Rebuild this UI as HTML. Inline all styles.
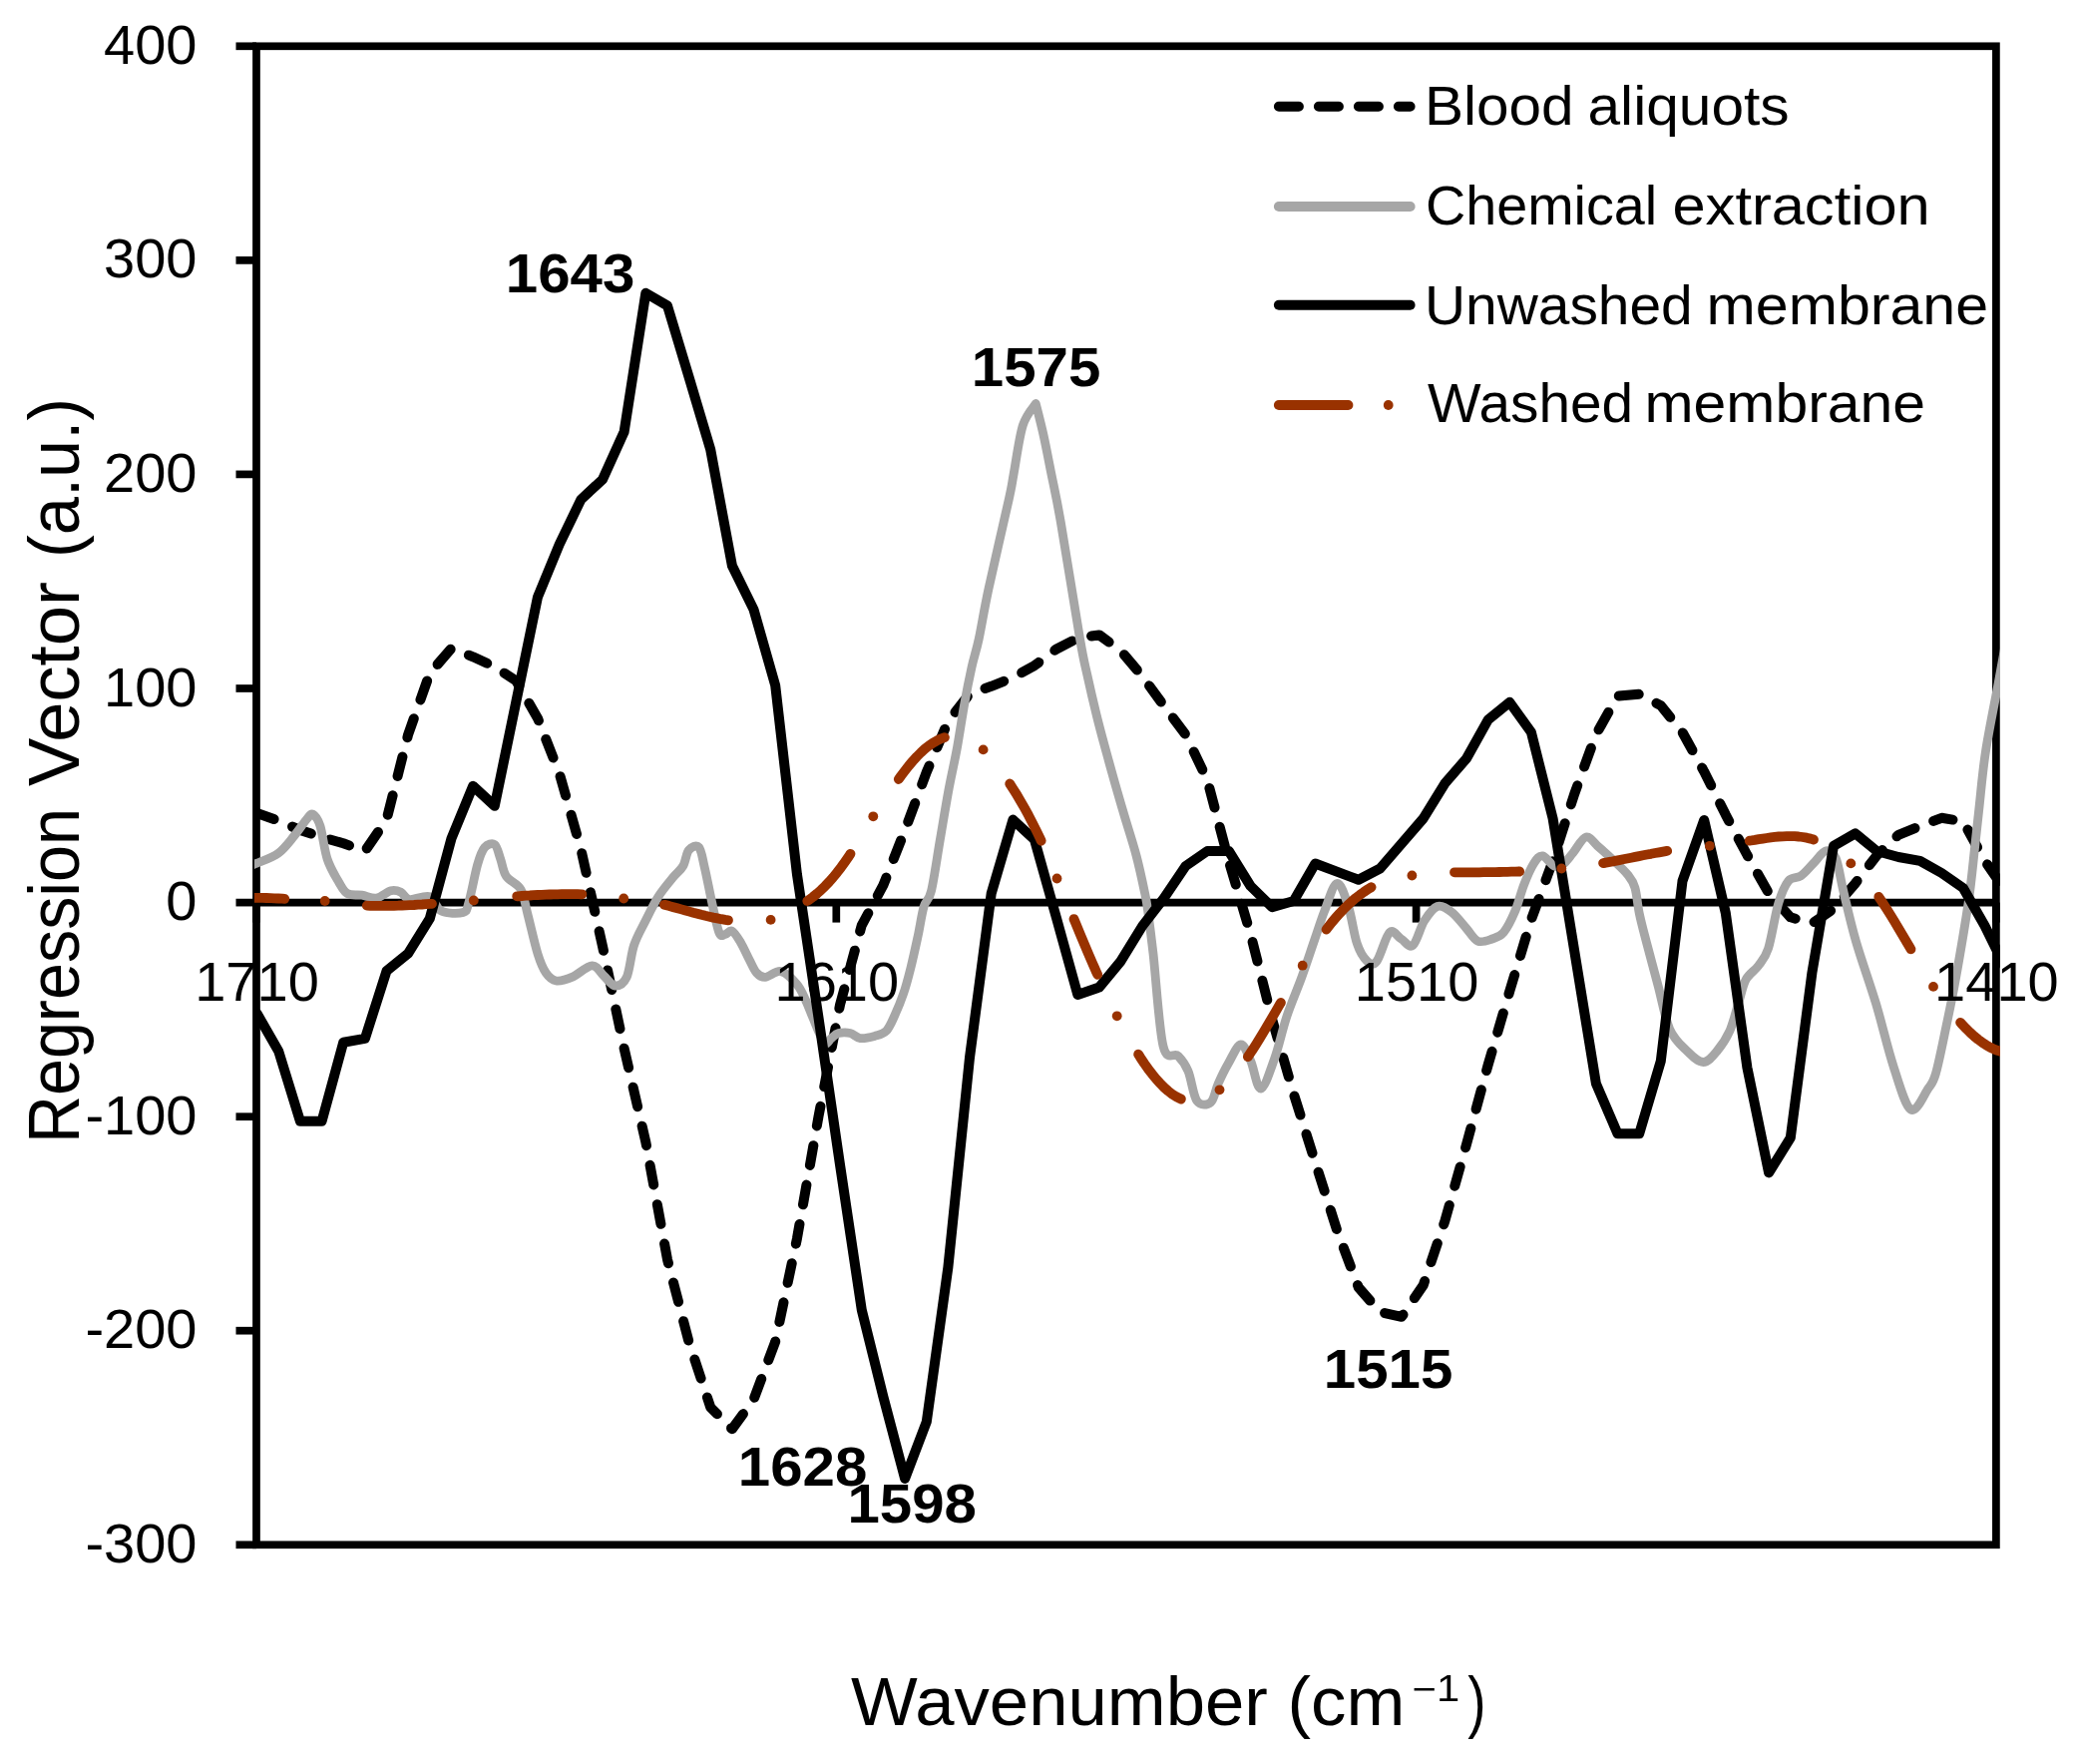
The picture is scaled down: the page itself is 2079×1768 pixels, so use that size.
<!DOCTYPE html>
<html lang="en"><head><meta charset="utf-8"><title>Regression Vector vs Wavenumber</title>
<style>
html,body{margin:0;padding:0;background:#fff;}
body{width:2079px;height:1768px;overflow:hidden;}
svg{display:block;}
text{font-family:"Liberation Sans",sans-serif;fill:#000;}
.tk{font-size:56px;}
.pk{font-size:56px;font-weight:bold;}
.lg{font-size:56px;}
.tt{font-size:69px;}
.yt{font-size:72px;}
</style></head><body>
<svg width="2079" height="1768" viewBox="0 0 2079 1768">
<rect x="0" y="0" width="2079" height="1768" fill="#fff"/>
<defs><filter id="soft" x="0" y="0" width="2079" height="1768" filterUnits="userSpaceOnUse"><feGaussianBlur stdDeviation="0.65"/></filter><clipPath id="pc"><rect x="255.0" y="42.4" width="1750.0" height="1509.7"/></clipPath></defs>

<g filter="url(#soft)">
<g stroke="#000" stroke-width="7.7" fill="none" stroke-linecap="butt">
<rect x="257.0" y="46.3" width="1743.9" height="1502.0"/>
<line x1="236.5" y1="46.3" x2="257.0" y2="46.3"/>
<line x1="236.5" y1="260.9" x2="257.0" y2="260.9"/>
<line x1="236.5" y1="475.4" x2="257.0" y2="475.4"/>
<line x1="236.5" y1="690.0" x2="257.0" y2="690.0"/>
<line x1="236.5" y1="904.6" x2="257.0" y2="904.6"/>
<line x1="236.5" y1="1119.2" x2="257.0" y2="1119.2"/>
<line x1="236.5" y1="1333.7" x2="257.0" y2="1333.7"/>
<line x1="236.5" y1="1548.3" x2="257.0" y2="1548.3"/>
<line x1="257.0" y1="904.6" x2="2000.9" y2="904.6"/>
<line x1="257.0" y1="904.6" x2="257.0" y2="924.6"/>
<line x1="838.3" y1="904.6" x2="838.3" y2="924.6"/>
<line x1="1419.6" y1="904.6" x2="1419.6" y2="924.6"/>
<line x1="2000.9" y1="904.6" x2="2000.9" y2="924.6"/>
</g>
<text class="tk" x="197.5" y="63.8" text-anchor="end">400</text>
<text class="tk" x="197.5" y="278.4" text-anchor="end">300</text>
<text class="tk" x="197.5" y="492.9" text-anchor="end">200</text>
<text class="tk" x="197.5" y="707.5" text-anchor="end">100</text>
<text class="tk" x="197.5" y="922.1" text-anchor="end">0</text>
<text class="tk" x="197.5" y="1136.7" text-anchor="end">-100</text>
<text class="tk" x="197.5" y="1351.2" text-anchor="end">-200</text>
<text class="tk" x="197.5" y="1565.8" text-anchor="end">-300</text>
<g clip-path="url(#pc)" fill="none" stroke-linejoin="round" stroke-linecap="round">
<polyline points="257.6,815.0 279.2,822.6 300.9,831.9 322.6,839.0 344.2,845.3 365.9,853.0 387.5,821.5 409.1,736.3 430.8,674.9 452.5,649.8 474.1,658.3 495.8,668.3 517.4,682.4 539.0,719.9 560.7,775.2 582.4,851.4 604.0,948.4 625.6,1050.7 647.3,1144.6 669.0,1262.4 690.6,1345.2 712.2,1410.4 733.9,1432.3 755.5,1402.6 777.2,1344.7 798.9,1241.7 820.5,1119.0 842.1,1006.7 863.8,927.3 885.4,887.2 907.1,832.2 928.8,773.8 950.4,722.9 972.0,695.4 993.7,687.8 1015.4,679.1 1037.0,667.1 1058.7,650.8 1080.3,639.6 1101.9,636.4 1123.6,652.3 1145.2,677.9 1166.9,707.7 1188.5,736.3 1210.2,781.8 1231.8,863.2 1253.5,935.8 1275.2,1021.8 1296.8,1096.3 1318.4,1164.9 1340.1,1232.7 1361.8,1290.4 1383.4,1315.0 1405.0,1319.8 1426.7,1288.1 1448.3,1224.0 1470.0,1147.0 1491.7,1067.1 1513.3,993.4 1534.9,921.7 1556.6,862.8 1578.2,795.7 1599.9,736.0 1621.5,697.6 1643.2,695.7 1664.8,707.2 1686.5,734.0 1708.2,773.3 1729.8,816.6 1751.4,857.0 1773.1,895.4 1794.8,919.3 1816.4,925.5 1838.0,910.8 1859.7,885.4 1881.3,857.5 1903.0,836.8 1924.7,828.0 1946.3,819.8 1967.9,823.3 1989.6,862.7 2011.2,894.0" stroke="#000" stroke-width="10" stroke-dasharray="20 20" stroke-dashoffset="2"/>
<path d="M250.0,868.0C251.2,867.5 252.4,867.4 257.2,865.3C262.0,863.2 272.6,859.8 278.9,855.2C285.2,850.6 290.0,843.7 294.8,837.9C299.6,832.1 304.8,824.1 307.9,820.5C311.0,816.9 311.4,815.0 313.6,816.2C315.8,817.4 318.5,820.2 320.9,827.7C323.3,835.2 325.0,851.6 328.1,861.0C331.2,870.4 336.3,878.4 339.7,884.2C343.1,890.0 344.5,893.5 348.4,895.7C352.2,897.9 358.0,896.5 362.8,897.2C367.6,897.9 372.5,900.8 377.3,900.1C382.1,899.4 387.7,893.8 391.8,892.8C395.9,891.8 398.8,892.8 401.9,894.3C405.0,895.8 405.8,900.8 410.6,901.5C415.4,902.2 425.5,896.7 430.8,898.6C436.1,900.5 436.8,910.5 442.4,913.1C447.9,915.8 459.5,916.0 464.1,914.5C468.7,913.0 467.5,912.4 469.9,904.4C472.3,896.4 476.0,876.0 478.6,866.8C481.2,857.6 482.9,852.8 485.8,849.4C488.7,846.0 493.2,844.6 495.9,846.5C498.5,848.4 499.8,855.7 501.7,861.0C503.6,866.3 504.1,873.3 507.5,878.4C510.9,883.5 518.4,884.9 522.0,891.4C525.6,897.9 526.4,906.6 529.2,917.4C532.0,928.2 536.0,946.4 539.0,956.0C542.0,965.6 544.1,970.5 547.2,975.0C550.3,979.5 553.0,982.3 557.4,983.0C561.8,983.7 567.3,981.9 573.3,979.4C579.3,976.9 588.2,968.0 593.5,967.8C598.8,967.5 601.2,974.5 605.1,977.9C609.0,981.3 612.9,987.8 616.7,988.0C620.6,988.2 625.1,986.1 628.2,979.4C631.3,972.6 632.4,956.9 635.5,947.5C638.6,938.1 642.9,931.2 647.0,923.0C651.1,914.8 655.5,905.6 660.1,898.4C664.7,891.2 670.4,884.7 674.5,879.6C678.6,874.5 682.1,872.6 684.7,868.0C687.4,863.4 687.8,855.2 690.4,852.1C693.0,849.0 698.0,846.3 700.6,849.2C703.2,852.1 704.1,860.2 706.3,869.4C708.5,878.6 711.2,893.4 713.6,904.2C716.0,915.1 718.6,929.1 720.8,934.5C723.0,939.9 724.4,936.9 726.6,936.7C728.8,936.5 731.1,931.8 733.8,933.1C736.4,934.4 739.6,939.9 742.5,944.7C745.4,949.5 748.6,957.0 751.2,962.0C753.9,967.0 755.8,972.1 758.4,975.0C761.0,977.9 763.0,979.6 767.1,979.4C771.2,979.2 777.7,972.4 783.0,973.6C788.3,974.8 794.8,981.8 798.9,986.6C803.0,991.4 805.0,997.0 807.6,1002.5C810.2,1008.0 812.4,1014.1 814.8,1019.9C817.2,1025.7 819.9,1032.7 822.0,1037.0C824.1,1041.3 825.6,1045.4 827.5,1046.0C829.4,1046.6 831.2,1042.3 833.4,1040.6C835.6,1038.8 837.5,1036.3 840.6,1035.5C843.7,1034.7 848.6,1034.7 852.2,1035.5C855.8,1036.3 858.2,1040.1 862.3,1040.6C866.4,1041.1 872.4,1039.6 876.8,1038.4C881.1,1037.2 885.0,1036.8 888.4,1033.3C891.8,1029.8 894.1,1023.7 897.0,1017.4C899.9,1011.1 903.0,1003.7 905.7,995.7C908.4,987.8 910.6,979.3 913.0,969.7C915.4,960.1 918.0,948.0 920.2,937.9C922.4,927.8 923.8,916.4 926.0,908.9C928.2,901.4 930.8,904.1 933.5,893.0C936.2,881.9 939.3,859.4 942.2,842.5C945.1,825.6 948.0,807.6 950.9,791.9C953.8,776.2 957.0,763.0 959.6,748.5C962.2,734.0 964.4,718.4 966.8,705.1C969.2,691.8 971.6,679.8 974.0,668.9C976.4,658.0 978.5,653.1 981.3,640.0C984.1,626.9 986.0,613.3 991.0,590.0C996.0,566.7 1007.2,519.2 1011.4,500.0C1015.6,480.8 1013.9,486.9 1016.2,474.6C1018.5,462.3 1021.6,438.1 1025.3,426.4C1029.0,414.7 1036.1,408.1 1038.3,404.5 M1038.3,404.5C1039.6,409.8 1043.4,424.3 1046.0,436.0C1048.6,447.7 1050.9,460.1 1053.8,474.6C1056.7,489.1 1058.5,495.6 1063.3,523.2C1068.1,550.8 1078.1,614.5 1082.5,640.0C1086.9,665.5 1086.9,662.9 1089.8,676.2C1092.7,689.5 1096.3,705.1 1099.9,719.6C1103.5,734.1 1107.2,747.3 1111.5,763.0C1115.8,778.7 1121.3,797.9 1125.9,813.6C1130.5,829.3 1135.3,843.4 1138.9,857.0C1142.5,870.6 1145.7,886.0 1147.6,895.2C1149.5,904.4 1149.1,901.9 1150.5,912.0C1151.9,922.1 1153.4,933.0 1156.0,955.7C1158.6,978.4 1161.8,1031.3 1166.0,1048.4C1170.2,1065.5 1176.8,1054.2 1181.0,1058.4C1185.2,1062.6 1187.8,1066.0 1191.0,1073.5C1194.2,1081.0 1196.1,1098.3 1199.9,1103.5C1203.7,1108.7 1210.2,1107.7 1213.7,1104.8C1217.2,1101.9 1218.3,1092.5 1221.2,1086.0C1224.1,1079.5 1227.4,1072.5 1231.2,1066.0C1235.0,1059.5 1240.0,1047.4 1243.8,1047.0C1247.6,1046.6 1250.5,1056.2 1253.8,1063.5C1257.1,1070.8 1259.8,1091.4 1263.8,1091.0C1267.8,1090.6 1273.2,1073.1 1277.6,1061.0C1282.0,1048.9 1285.4,1032.0 1290.0,1018.3C1294.6,1004.6 1300.4,991.7 1305.0,979.0C1309.6,966.3 1313.9,953.0 1317.7,942.0C1321.5,931.0 1324.0,922.4 1327.7,913.0C1331.5,903.6 1336.2,886.3 1340.2,885.5C1344.2,884.7 1348.2,898.0 1351.5,908.0C1354.8,918.0 1357.2,936.5 1360.3,945.7C1363.4,954.9 1367.0,960.2 1370.3,963.2C1373.6,966.2 1376.2,968.3 1380.0,963.5C1383.8,958.7 1388.9,938.2 1393.0,934.5C1397.1,930.8 1400.6,938.8 1404.5,941.0C1408.4,943.2 1412.3,950.6 1416.2,947.6C1420.1,944.6 1423.6,929.5 1427.7,923.0C1431.8,916.5 1436.2,910.0 1440.8,908.5C1445.4,907.0 1450.4,910.7 1455.2,914.3C1460.0,917.9 1465.4,925.4 1469.7,930.2C1474.0,935.0 1477.0,941.4 1481.3,943.2C1485.6,945.0 1491.4,942.5 1495.7,941.0C1500.0,939.5 1503.4,939.2 1507.3,934.5C1511.2,929.8 1515.5,920.8 1518.9,912.8C1522.3,904.8 1524.5,894.8 1527.6,886.8C1530.7,878.8 1534.6,869.9 1537.7,865.1C1540.8,860.3 1543.0,857.4 1546.4,857.9C1549.8,858.4 1554.5,866.6 1557.9,868.0C1561.3,869.4 1563.9,868.2 1567.0,866.0C1570.1,863.8 1572.9,859.5 1576.7,855.0C1580.5,850.5 1585.5,840.0 1589.8,839.0C1594.1,838.0 1598.2,845.3 1602.8,849.2C1607.4,853.1 1612.4,857.6 1617.2,862.2C1622.0,866.8 1628.1,872.1 1631.7,876.7C1635.3,881.3 1637.0,883.2 1638.9,889.7C1640.8,896.2 1641.4,906.5 1643.3,915.7C1645.2,924.9 1647.4,932.7 1650.5,944.7C1653.6,956.8 1658.2,973.5 1662.1,988.0C1666.0,1002.5 1668.9,1020.5 1673.7,1031.4C1678.5,1042.3 1685.5,1047.9 1691.1,1053.4C1696.7,1058.9 1702.4,1064.5 1707.4,1064.5C1712.4,1064.5 1716.8,1058.7 1721.2,1053.4C1725.6,1048.2 1730.4,1041.0 1734.0,1033.0C1737.6,1025.0 1739.9,1014.1 1742.6,1005.6C1745.3,997.1 1746.7,988.3 1750.0,982.0C1753.3,975.7 1758.8,973.2 1762.6,968.0C1766.4,962.8 1769.2,960.9 1772.6,950.5C1775.9,940.1 1779.3,916.8 1782.7,905.5C1786.1,894.2 1789.0,887.5 1792.7,882.9C1796.5,878.3 1801.0,880.8 1805.2,877.9C1809.4,875.0 1813.5,869.6 1817.7,865.4C1821.9,861.2 1826.5,853.6 1830.3,852.8C1834.1,851.9 1837.4,853.6 1840.3,860.3C1843.2,867.0 1844.5,879.1 1847.8,892.9C1851.1,906.7 1854.9,924.2 1860.3,943.0C1865.7,961.8 1874.1,984.7 1880.4,1005.6C1886.7,1026.5 1892.1,1050.6 1897.9,1068.3C1903.7,1086.0 1909.6,1108.2 1915.4,1112.0C1921.2,1115.8 1928.8,1096.8 1933.0,1090.8C1937.2,1084.8 1937.6,1085.8 1940.5,1075.8C1943.4,1065.8 1947.2,1046.6 1950.5,1030.7C1953.8,1014.8 1956.8,1001.5 1960.5,980.6C1964.2,959.7 1969.8,927.3 1973.0,905.5C1976.2,883.7 1977.7,866.1 1979.5,850.0C1981.3,833.9 1982.2,825.2 1984.0,809.0C1985.8,792.8 1987.3,773.5 1990.5,752.8C1993.7,732.1 1999.9,702.5 2003.1,685.0C2006.3,667.5 2007.8,659.7 2009.9,648.0C2012.1,636.3 2015.0,620.5 2016.0,615.0" stroke="#A6A6A6" stroke-width="8.8"/>
<polyline points="257.6,1015.8 279.2,1053.4 300.9,1123.8 322.6,1123.8 344.2,1044.7 365.9,1040.9 387.5,973.2 409.1,955.7 430.8,920.6 452.5,840.4 474.1,787.8 495.8,807.8 517.4,703.0 539.0,598.3 560.7,545.7 582.4,500.6 604.0,480.6 625.6,432.9 647.3,293.8 669.0,306.4 690.6,378.0 712.2,450.5 733.9,567.0 755.5,610.9 777.2,687.0 798.9,876.0 820.5,1020.0 842.1,1168.0 863.8,1313.0 885.4,1400.0 907.1,1482.0 928.8,1425.0 950.4,1270.0 972.0,1060.0 993.7,895.5 1015.4,821.6 1037.0,841.7 1058.7,919.0 1080.3,997.0 1101.9,989.5 1123.6,963.2 1145.2,928.0 1166.9,900.0 1188.5,868.0 1210.2,853.0 1231.8,853.0 1253.5,888.0 1275.2,909.3 1296.8,903.0 1318.4,865.5 1340.1,873.6 1361.8,881.8 1383.4,870.5 1405.0,845.4 1426.7,820.4 1448.3,785.3 1470.0,760.2 1491.7,721.4 1513.3,703.8 1534.9,733.9 1556.6,820.4 1578.2,953.0 1599.9,1086.0 1621.5,1136.3 1643.2,1136.3 1664.8,1063.5 1686.5,883.0 1708.2,822.0 1729.8,915.0 1751.4,1070.0 1773.1,1175.4 1794.8,1140.3 1816.4,975.0 1838.0,847.8 1859.7,835.3 1881.3,853.0 1903.0,859.0 1924.7,862.9 1946.3,875.0 1967.9,890.0 1989.6,928.0 2011.2,972.0" stroke="#000" stroke-width="10"/>
<polyline points="245.0,900.3 247.0,900.2 251.0,900.0 255.0,899.9 259.0,899.9 263.0,899.9 267.0,900.0 271.0,900.1 275.0,900.3 279.0,900.5 283.0,900.7 285.3,900.9" stroke="#993300" stroke-width="9.8"/>
<polyline points="367.8,907.7 371.0,907.8 375.0,907.8 379.0,907.9 383.0,907.9 387.0,907.9 391.0,907.8 395.0,907.8 399.0,907.7 403.0,907.5 407.0,907.4 411.0,907.2 415.0,907.0 419.0,906.7 423.0,906.5 427.0,906.2 431.0,905.9 433.0,905.8" stroke="#993300" stroke-width="9.8"/>
<polyline points="518.2,898.3 519.0,898.3 523.0,898.0 527.0,897.7 531.0,897.5 535.0,897.2 539.0,897.0 543.0,896.8 547.0,896.6 551.0,896.5 555.0,896.4 559.0,896.3 563.0,896.2 567.0,896.2 571.0,896.1 575.0,896.1 579.0,896.2 583.0,896.3 583.4,896.3" stroke="#993300" stroke-width="9.8"/>
<polyline points="665.9,906.8 667.0,907.1 671.0,908.1 675.0,909.2 679.0,910.3 683.0,911.4 687.0,912.5 691.0,913.6 695.0,914.7 699.0,915.7 703.0,916.8 707.0,917.8 711.0,918.7 715.0,919.6 719.0,920.4 723.0,921.2 727.0,921.9 730.0,922.3" stroke="#993300" stroke-width="9.8"/>
<polyline points="809.3,903.0 811.0,901.9 815.0,898.9 819.0,895.6 823.0,892.1 827.0,888.2 831.0,884.0 835.0,879.5 839.0,874.6 843.0,869.4 847.0,863.8 851.0,858.1 852.5,855.8" stroke="#993300" stroke-width="9.8"/>
<polyline points="900.8,781.0 903.0,777.9 907.0,772.6 911.0,767.5 915.0,762.8 919.0,758.4 923.0,754.4 927.0,750.7 931.0,747.5 935.0,744.7 939.0,742.4 943.0,740.5 946.9,739.1" stroke="#993300" stroke-width="9.8"/>
<polyline points="1012.2,785.5 1015.0,789.8 1019.0,796.2 1023.0,802.9 1027.0,809.9 1031.0,817.2 1035.0,824.9 1039.0,832.9 1043.0,841.2 1043.7,842.8" stroke="#993300" stroke-width="9.8"/>
<polyline points="1076.5,921.1 1079.0,927.2 1083.0,936.9 1087.0,946.4 1091.0,955.8 1095.0,965.1 1099.0,974.2 1100.2,976.8" stroke="#993300" stroke-width="9.8"/>
<polyline points="1141.1,1056.7 1143.0,1059.7 1147.0,1065.7 1151.0,1071.4 1155.0,1076.6 1159.0,1081.5 1163.0,1085.9 1167.0,1090.0 1171.0,1093.5 1175.0,1096.6 1179.0,1099.1 1183.0,1101.2 1183.9,1101.5" stroke="#993300" stroke-width="9.8"/>
<polyline points="1250.9,1059.2 1251.0,1059.0 1255.0,1053.1 1259.0,1046.8 1263.0,1040.4 1267.0,1033.8 1271.0,1027.1 1275.0,1020.3 1279.0,1013.4 1283.0,1006.4 1283.9,1004.9" stroke="#993300" stroke-width="9.8"/>
<polyline points="1329.5,931.6 1331.0,929.6 1335.0,924.5 1339.0,919.8 1343.0,915.3 1347.0,911.1 1351.0,907.2 1355.0,903.5 1359.0,900.1 1363.0,897.0 1367.0,894.1 1371.0,891.4 1374.6,889.2" stroke="#993300" stroke-width="9.8"/>
<polyline points="1458.0,874.3 1459.0,874.3 1463.0,874.3 1467.0,874.3 1471.0,874.3 1475.0,874.3 1479.0,874.3 1483.0,874.3 1487.0,874.2 1491.0,874.2 1495.0,874.1 1499.0,874.1 1503.0,874.0 1507.0,873.9 1511.0,873.8 1515.0,873.7 1519.0,873.6 1523.0,873.5 1523.2,873.4" stroke="#993300" stroke-width="9.8"/>
<polyline points="1607.1,865.1 1611.0,864.4 1615.0,863.7 1619.0,862.9 1623.0,862.1 1627.0,861.3 1631.0,860.5 1635.0,859.7 1639.0,858.9 1643.0,858.1 1647.0,857.3 1651.0,856.5 1655.0,855.8 1659.0,855.0 1663.0,854.3 1667.0,853.6 1671.0,852.9 1671.2,852.9" stroke="#993300" stroke-width="9.8"/>
<polyline points="1753.7,842.7 1755.0,842.5 1759.0,841.9 1763.0,841.2 1767.0,840.6 1771.0,840.0 1775.0,839.4 1779.0,838.9 1783.0,838.5 1787.0,838.3 1791.0,838.1 1795.0,838.1 1799.0,838.2 1803.0,838.5 1807.0,839.0 1811.0,839.7 1815.0,840.6 1818.0,841.5" stroke="#993300" stroke-width="9.8"/>
<polyline points="1883.3,898.9 1887.0,904.4 1891.0,910.6 1895.0,917.0 1899.0,923.5 1903.0,930.2 1907.0,936.9 1911.0,943.7 1915.0,950.5 1915.5,951.3" stroke="#993300" stroke-width="9.8"/>
<polyline points="1965.1,1024.8 1967.0,1026.9 1971.0,1031.1 1975.0,1035.0 1979.0,1038.6 1983.0,1041.9 1987.0,1044.8 1991.0,1047.4 1995.0,1049.7 1999.0,1051.6 2003.0,1053.1 2006.1,1053.9" stroke="#993300" stroke-width="9.8"/>
<circle cx="325.7" cy="903" r="4.9" fill="#993300" stroke="none"/>
<circle cx="474.8" cy="902.5" r="4.9" fill="#993300" stroke="none"/>
<circle cx="625.2" cy="900.5" r="4.9" fill="#993300" stroke="none"/>
<circle cx="772.6" cy="921.9" r="4.9" fill="#993300" stroke="none"/>
<circle cx="875.3" cy="818.3" r="4.9" fill="#993300" stroke="none"/>
<circle cx="985.6" cy="751.4" r="4.9" fill="#993300" stroke="none"/>
<circle cx="1059.5" cy="880.5" r="4.9" fill="#993300" stroke="none"/>
<circle cx="1119.7" cy="1018.3" r="4.9" fill="#993300" stroke="none"/>
<circle cx="1222.5" cy="1092.3" r="4.9" fill="#993300" stroke="none"/>
<circle cx="1305.7" cy="967.7" r="4.9" fill="#993300" stroke="none"/>
<circle cx="1415.4" cy="877.5" r="4.9" fill="#993300" stroke="none"/>
<circle cx="1565.3" cy="870.5" r="4.9" fill="#993300" stroke="none"/>
<circle cx="1713.8" cy="847.8" r="4.9" fill="#993300" stroke="none"/>
<circle cx="1855.3" cy="865.4" r="4.9" fill="#993300" stroke="none"/>
<circle cx="1938" cy="988.9" r="4.9" fill="#993300" stroke="none"/>
</g>
<text class="tk" x="257.5" y="1003.3" text-anchor="middle">1710</text>
<text class="tk" x="838.8" y="1003.3" text-anchor="middle">1610</text>
<text class="tk" x="1420.1" y="1003.3" text-anchor="middle">1510</text>
<text class="tk" x="2001.4" y="1003.3" text-anchor="middle">1410</text>
<text class="pk" x="506.75" y="292.5" textLength="129.5" lengthAdjust="spacingAndGlyphs">1643</text>
<text class="pk" x="973.85" y="386.5" textLength="129.5" lengthAdjust="spacingAndGlyphs">1575</text>
<text class="pk" x="739.75" y="1488.5" textLength="129.5" lengthAdjust="spacingAndGlyphs">1628</text>
<text class="pk" x="849.45" y="1525.5" textLength="129.5" lengthAdjust="spacingAndGlyphs">1598</text>
<text class="pk" x="1326.75" y="1390.8" textLength="129.5" lengthAdjust="spacingAndGlyphs">1515</text>
<line x1="1281.9" y1="106.7" x2="1413.6" y2="106.7" stroke="#000" stroke-width="10" stroke-dasharray="20 20" stroke-linecap="round"/>
<line x1="1281.9" y1="207" x2="1413.6" y2="207" stroke="#A6A6A6" stroke-width="10" stroke-linecap="round"/>
<line x1="1281.9" y1="305.7" x2="1413.6" y2="305.7" stroke="#000" stroke-width="10" stroke-linecap="round"/>
<line x1="1281.9" y1="406" x2="1351.4" y2="406" stroke="#993300" stroke-width="10" stroke-linecap="round"/>
<circle cx="1391.7" cy="406" r="4.9" fill="#993300"/>
<text class="lg" x="1428.00" y="124.9" textLength="149.48" lengthAdjust="spacingAndGlyphs">Blood</text>
<text class="lg" x="1591.50" y="124.9" textLength="202.11" lengthAdjust="spacingAndGlyphs">aliquots</text>
<text class="lg" x="1429.00" y="225" textLength="232.17" lengthAdjust="spacingAndGlyphs">Chemical</text>
<text class="lg" x="1676.50" y="225" textLength="258.15" lengthAdjust="spacingAndGlyphs">extraction</text>
<text class="lg" x="1428.00" y="325.4" textLength="268.74" lengthAdjust="spacingAndGlyphs">Unwashed</text>
<text class="lg" x="1710.50" y="325.4" textLength="282.65" lengthAdjust="spacingAndGlyphs">membrane</text>
<text class="lg" x="1431.00" y="423" textLength="206.08" lengthAdjust="spacingAndGlyphs">Washed</text>
<text class="lg" x="1648.50" y="423" textLength="281.65" lengthAdjust="spacingAndGlyphs">membrane</text>
<text class="tt" x="853.1" y="1729.2" textLength="555.2" lengthAdjust="spacingAndGlyphs">Wavenumber (cm</text>
<text x="1415.6" y="1705.4" font-size="36" textLength="47.6" lengthAdjust="spacingAndGlyphs">−1</text>
<text class="tt" x="1471.2" y="1729.2" textLength="18.3" lengthAdjust="spacingAndGlyphs">)</text>
<text class="yt" transform="translate(78.6,1146) rotate(-90)" x="0" y="0" textLength="336" lengthAdjust="spacingAndGlyphs">Regression</text>
<text class="yt" transform="translate(78.6,788) rotate(-90)" x="0" y="0" textLength="205" lengthAdjust="spacingAndGlyphs">Vector</text>
<text class="yt" transform="translate(78.6,559) rotate(-90)" x="0" y="0" textLength="160" lengthAdjust="spacingAndGlyphs">(a.u.)</text>
</g>
</svg></body></html>
